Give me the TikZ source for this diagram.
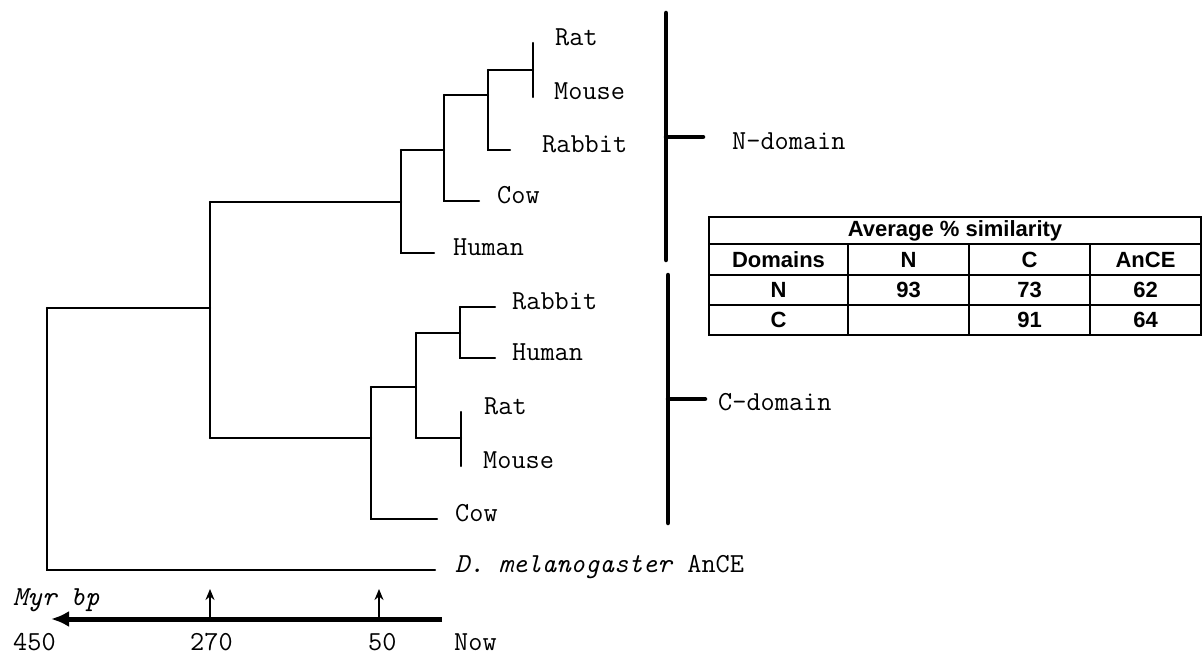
\documentclass[tikz,border=0pt]{standalone}
\usepackage{fontspec}
\newfontfamily\arl{Liberation Sans}
\usetikzlibrary{arrows.meta}
\begin{document}
\begin{tikzpicture}[x=1pt,y=-1pt,
  tree/.style={line width=2.4pt, line cap=round},
  brk/.style={line width=4.5pt, line cap=round},
  leaf/.style={anchor=mid west, inner sep=0pt, font=\ttfamily\fontsize{27.5}{27.5}\selectfont},
  cell/.style={inner sep=0pt, font=\arl\bfseries\fontsize{22}{22}\selectfont},
  grid/.style={line width=2pt},
  tick/.style={line width=2pt, -{Stealth[length=11pt,width=9pt]}}]
\useasboundingbox (0,0) rectangle (1202,663);
% ---------- coordinates of internal nodes ----------
\coordinate (r1) at (47,308);   \coordinate (r2) at (47,570);
\coordinate (ncT) at (210,202); \coordinate (ncM) at (210,308); \coordinate (ncB) at (210,438);
\coordinate (n1T) at (401,150); \coordinate (n1M) at (401,202); \coordinate (n1B) at (401,253);
\coordinate (n2T) at (444,95);  \coordinate (n2M) at (444,150); \coordinate (n2B) at (444,201);
\coordinate (n3T) at (488,70);  \coordinate (n3M) at (488,95);  \coordinate (n3B) at (488,150);
\coordinate (n4T) at (533,43);  \coordinate (n4M) at (533,70);  \coordinate (n4B) at (533,97);
\coordinate (c1T) at (371,387); \coordinate (c1M) at (371,438); \coordinate (c1B) at (371,519);
\coordinate (c2T) at (416,333); \coordinate (c2M) at (416,387); \coordinate (c2B) at (416,438);
\coordinate (c3T) at (460,307); \coordinate (c3M) at (460,333); \coordinate (c3B) at (460,358);
\coordinate (c4T) at (461,412); \coordinate (c4M) at (461,438); \coordinate (c4B) at (461,466);
% leaf tips
\coordinate (tNrab) at (510,150); \coordinate (tNcow) at (479,201); \coordinate (tNhum) at (434,253);
\coordinate (tCrab) at (495,307); \coordinate (tChum) at (495,358); \coordinate (tCcow) at (437,519);
\coordinate (tDm) at (435,570);
% ---------- leaf labels ----------
\node[leaf] (Nrat) at (555,43) {Rat};
\node[leaf] (Nmouse) at (554,97) {Mouse};
\node[leaf] (Nrabbit) at (542,150) {Rabbit};
\node[leaf] (Ncow) at (497,201) {Cow};
\node[leaf] (Nhuman) at (453,253) {Human};
\node[leaf] (Crabbit) at (512,307) {Rabbit};
\node[leaf] (Chuman) at (512,358) {Human};
\node[leaf] (Crat) at (484,412) {Rat};
\node[leaf] (Cmouse) at (483,466) {Mouse};
\node[leaf] (Ccow) at (455,519) {Cow};
\node[leaf] (Dmel) at (455,570) {\textit{D. melanogaster} AnCE};
% ---------- tree ----------
\draw[tree] (r1) -- (ncM);
\draw[tree] (r1) -- (r2) -- (tDm);
\draw[tree] (ncT) -- (ncB);
\draw[tree] (ncT) -- (n1M);
\draw[tree] (n1T) -- (n1B) -- (tNhum);
\draw[tree] (n1T) -- (n2M);
\draw[tree] (n2T) -- (n2B) -- (tNcow);
\draw[tree] (n2T) -- (n3M);
\draw[tree] (n3T) -- (n3B) -- (tNrab);
\draw[tree] (n3T) -- (n4M);
\draw[tree] (n4T) -- (n4B);
\draw[tree] (ncB) -- (c1M);
\draw[tree] (c1T) -- (c1B) -- (tCcow);
\draw[tree] (c1T) -- (c2M);
\draw[tree] (c2T) -- (c2B);
\draw[tree] (c2T) -- (c3M);
\draw[tree] (c3T) -- (c3B) -- (tChum);
\draw[tree] (c3T) -- (tCrab);
\draw[tree] (c2B) -- (c4M);
\draw[tree] (c4T) -- (c4B);
% ---------- domain brackets ----------
\coordinate (bNT) at (666,13); \coordinate (bNB) at (666,260); \coordinate (bNM) at (666,137); \coordinate (bNE) at (703,137);
\coordinate (bCT) at (668,275); \coordinate (bCB) at (668,523); \coordinate (bCM) at (668,399); \coordinate (bCE) at (705,399);
\draw[brk] (bNT) -- (bNB);
\draw[brk] (bNM) -- (bNE);
\draw[brk] (bCT) -- (bCB);
\draw[brk] (bCM) -- (bCE);
\node[leaf] (Ndom) at (732,147) {N-domain};
\node[leaf] (Cdom) at (718,408) {C-domain};
% ---------- time axis ----------
\coordinate (axR) at (442,619); \coordinate (axL) at (51,619);
\coordinate (t270) at (210,619); \coordinate (t270e) at (210,589);
\coordinate (t50) at (379,619);  \coordinate (t50e) at (379,589);
\draw[line width=5pt, -{Latex[length=18pt,width=16pt]}] (axR) -- (axL);
\draw[tick] (t270) -- (t270e);
\draw[tick] (t50) -- (t50e);
\node[leaf] (myr) at (13,603) {\textit{Myr bp}};
\node[leaf] (l450) at (13,648) {450};
\node[leaf] (l270) at (190,648) {270};
\node[leaf] (l50) at (368,648) {50};
\node[leaf] (lnow) at (454,648) {Now};
% ---------- table ----------
\draw[grid] (709,217) rectangle (1201,335);
\draw[grid] (709,244) -- (1201,244);
\draw[grid] (709,275) -- (1201,275);
\draw[grid] (709,305) -- (1201,305);
\draw[grid] (848,244) -- (848,335);
\draw[grid] (969,244) -- (969,335);
\draw[grid] (1090,244) -- (1090,335);
\node[cell] (hdr) at (955,230.5) {Average \% similarity};
\node[cell] (hD) at (778.5,259.5) {Domains};
\node[cell] (hN) at (908.5,259.5) {N};
\node[cell] (hC) at (1029.5,259.5) {C};
\node[cell] (hA) at (1145.5,259.5) {AnCE};
\node[cell] (rN) at (778.5,290) {N};
\node[cell] (rNN) at (908.5,290) {93};
\node[cell] (rNC) at (1029.5,290) {73};
\node[cell] (rNA) at (1145.5,290) {62};
\node[cell] (rC) at (778.5,320) {C};
\node[cell] (rCC) at (1029.5,320) {91};
\node[cell] (rCA) at (1145.5,320) {64};
\end{tikzpicture}
\end{document}
